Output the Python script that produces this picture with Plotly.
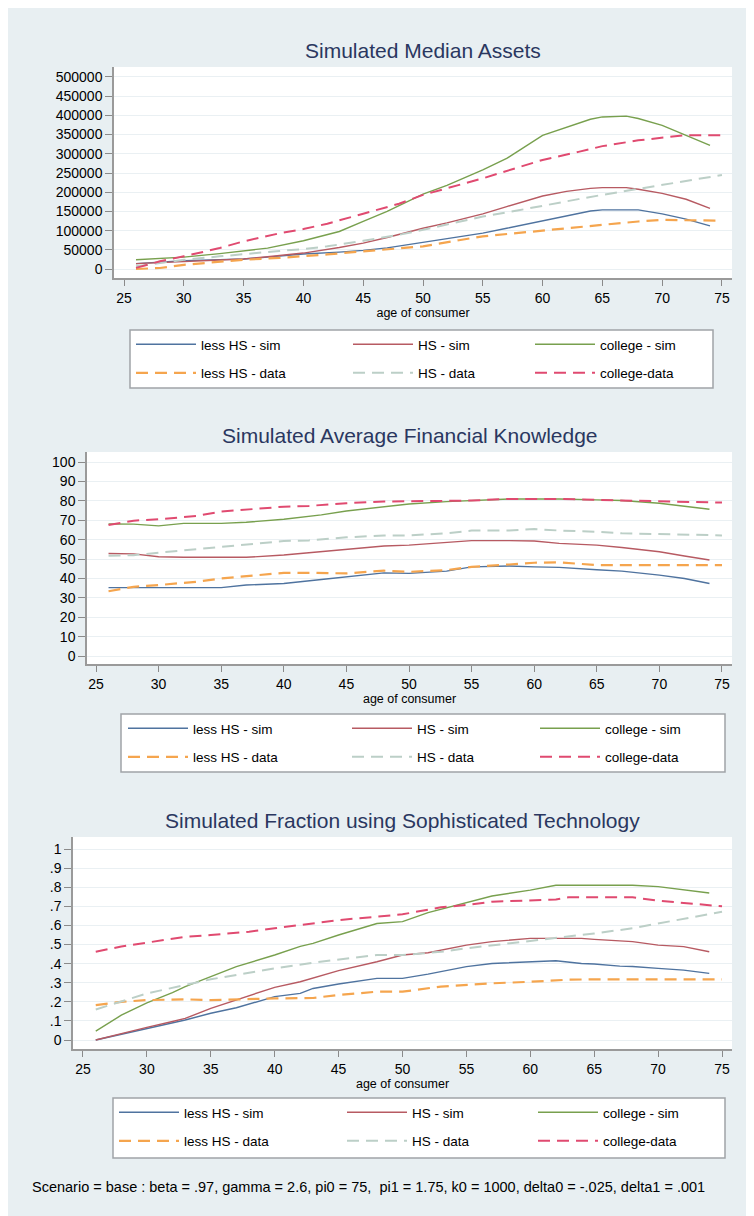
import plotly.graph_objects as go

# The page body has an 8px margin, so the figure starts at page (8, 8).
OFF = 8
W, H = 746, 1208

# ---------------- data ----------------
series_names = ["less HS - sim", "HS - sim", "college - sim",
                "less HS - data", "HS - data", "college-data"]

# Chart 1: Simulated Median Assets
assets_age_sim = [26, 28, 30, 33, 35, 37, 40, 43, 45, 47, 50, 52, 55, 57, 60, 62, 64, 65, 67, 68, 70, 72, 74]
assets_lesshs_sim = [14000, 18000, 21600, 24500, 26000, 31000, 39000, 44000, 48400, 55000, 69000, 78000, 93400,
                     106000, 125400, 137000, 151000, 154000, 154000, 154000, 143600, 130000, 112500]
assets_hs_sim = [14000, 17000, 20000, 24000, 26000, 32000, 41500, 56000, 67500, 82000, 106000, 120000, 143600,
                 162600, 190000, 202000, 210000, 212000, 212000, 207600, 197000, 181600, 158000]
assets_college_sim = [24000, 28000, 31000, 40000, 47600, 54500, 73500, 97700, 124000, 150000, 195000, 218000, 258000,
                      288000, 348000, 370000, 390000, 396000, 398000, 392000, 374000, 348000, 322000]
assets_age_data = [26, 28, 30, 33, 35, 38, 40, 42, 45, 48, 50, 53, 55, 58, 60, 63, 65, 68, 70, 72, 75]
assets_lesshs_data = [0, 2600, 11000, 19000, 24000, 29000, 33000, 38000, 46000, 54500, 59000, 75000, 85000, 94000,
                      99500, 109000, 115000, 123700, 128000, 127000, 126000]
assets_hs_data = [7000, 16000, 24000, 33000, 39000, 47000, 52000, 59000, 73500, 89000, 102000, 122000, 136700,
                  153000, 165000, 182000, 193000, 209000, 219000, 229000, 244800]
assets_college_data = [3000, 20000, 33000, 54500, 72000, 93000, 104000, 118000, 144000, 170000, 193000, 219000,
                       236000, 265000, 284000, 305000, 320000, 335000, 342500, 348600, 348600]
assets_yticks = [0, 50000, 100000, 150000, 200000, 250000, 300000, 350000, 400000, 450000, 500000]

# Chart 2: Simulated Average Financial Knowledge
know_age_sim = [26, 28, 30, 32, 35, 37, 40, 43, 45, 48, 50, 53, 55, 58, 60, 62, 65, 67, 70, 72, 74]
know_lesshs_sim = [35.3, 35.3, 35.2, 35.3, 35.3, 36.6, 37.4, 39.5, 40.9, 42.9, 42.6, 43.8, 46, 46.4, 46, 45.7,
                   44.5, 43.8, 41.7, 40, 37.4]
know_hs_sim = [52.9, 52.7, 51.2, 50.9, 50.9, 50.9, 52.1, 53.8, 54.7, 56.7, 57.2, 58.4, 59.5, 59.5, 59.3, 58.1,
               57.2, 56, 53.8, 51.6, 49.5]
know_college_sim = [68.1, 68, 67.1, 68.4, 68.4, 69, 70.5, 72.8, 74.8, 77, 78.4, 79.6, 80.2, 81, 81, 81, 80.5,
                    80.2, 78.8, 77.4, 75.7]
know_age_data = [26, 28, 30, 33, 35, 38, 40, 42, 45, 48, 50, 53, 55, 58, 60, 62, 65, 67, 70, 72, 75]
know_lesshs_data = [33.4, 35.7, 36.6, 38.3, 40, 41.7, 42.9, 42.9, 42.6, 44, 43.4, 44.3, 46, 47.2, 48.1, 48.3,
                    46.9, 46.9, 46.9, 46.9, 46.9]
know_hs_data = [51.7, 52, 53.3, 55.2, 56.4, 58.1, 59.3, 59.6, 61.2, 62.2, 62.2, 63.3, 64.7, 64.7, 65.5, 64.7,
                64.1, 63.3, 62.9, 62.6, 62.2]
know_college_data = [67.6, 69.8, 70.5, 72.2, 74.5, 75.8, 77, 77.4, 78.8, 79.7, 79.7, 80, 80.2, 81, 81, 81, 80.5,
                     80.2, 80, 79.6, 79.1]
know_yticks = [0, 10, 20, 30, 40, 50, 60, 70, 80, 90, 100]

# Chart 3: Simulated Fraction using Sophisticated Technology
tech_age_sim = [26, 28, 30, 32, 33, 35, 37, 40, 42, 43, 45, 48, 50, 52, 55, 57, 60, 62, 64, 65, 67, 68, 70, 72, 74]
tech_lesshs_sim = [0, .031, .061, .09, .105, .14, .169, .227, .244, .27, .293, .323, .323, .345, .384, .401, .41,
                   .415, .401, .398, .387, .385, .375, .366, .349]
tech_hs_sim = [0, .035, .066, .097, .113, .166, .21, .276, .305, .323, .363, .41, .445, .457, .497, .515, .532,
               .532, .532, .527, .52, .515, .497, .489, .462]
tech_college_sim = [.047, .13, .195, .248, .28, .33, .384, .445, .49, .506, .55, .61, .62, .667, .72, .754, .785,
                    .81, .81, .81, .81, .81, .803, .785, .77]
tech_age_data = [26, 28, 30, 33, 35, 38, 40, 43, 45, 48, 50, 53, 55, 57, 60, 62, 63, 65, 68, 70, 73, 75]
tech_lesshs_data = [.183, .20, .209, .213, .209, .215, .218, .22, .236, .253, .253, .28, .288, .297, .305, .314,
                    .316, .318, .318, .318, .318, .318]
tech_hs_data = [.16, .204, .244, .288, .318, .352, .375, .405, .422, .445, .445, .462, .48, .495, .52, .532, .54,
                .558, .585, .61, .646, .672]
tech_college_data = [.462, .49, .51, .54, .55, .567, .585, .61, .628, .646, .658, .695, .707, .724, .733, .736,
                     .747, .747, .747, .73, .712, .70]
tech_yticks = [0, .1, .2, .3, .4, .5, .6, .7, .8, .9, 1]
tech_yticklabels = ["0", ".1", ".2", ".3", ".4", ".5", ".6", ".7", ".8", ".9", "1"]

xticks = [25, 30, 35, 40, 45, 50, 55, 60, 65, 70, 75]

titles = ["Simulated Median Assets",
          "Simulated Average Financial Knowledge",
          "Simulated Fraction using Sophisticated Technology"]
xtitle = "age of consumer"
note = ("Scenario = base : beta = .97, gamma = 2.6, pi0 = 75,  pi1 = 1.75, k0 = 1000, "
        "delta0 = -.025, delta1 = .001")

# ---------------- style ----------------
FONT = "Liberation Sans, Arial, sans-serif"
BG = "#e8eff2"
colors = ["#4f739f", "#b75a62", "#78a04e", "#f5a54e", "#bccfc7", "#e04a70"]
widths = [1.4, 1.4, 1.4, 2.2, 2.0, 2.0]
dashes = [None, None, None, "12px,7px", "12px,7px", "12px,7px"]


def fx(p):  # page pixel -> paper x
    return (p - OFF) / W


def fy(p):  # page pixel -> paper y
    return 1 - (p - OFF) / H


# page-pixel layout of each panel: (left, right, top, bottom)
panels = [(114, 732, 67, 278), (87, 732, 452, 664), (73, 732, 837, 1049)]
xranges = [[24.16, 75.84], [24.28, 75.8], [24.22, 75.78]]
yranges = [[-23400, 526000], [-4.1, 105.2], [-0.047, 1.063]]
title_y = [50, 436, 820]
# legend boxes (page px): left, right, top, bottom
legend_box = [(130, 713, 330, 388), (121, 725, 714, 772), (113, 725, 1098, 1158)]
# x page position where each legend column's sample line starts
legend_cols = [(137, 354, 536), (129, 353, 541), (120, 348, 539)]

charts = [
    (assets_age_sim, [assets_lesshs_sim, assets_hs_sim, assets_college_sim],
     assets_age_data, [assets_lesshs_data, assets_hs_data, assets_college_data]),
    (know_age_sim, [know_lesshs_sim, know_hs_sim, know_college_sim],
     know_age_data, [know_lesshs_data, know_hs_data, know_college_data]),
    (tech_age_sim, [tech_lesshs_sim, tech_hs_sim, tech_college_sim],
     tech_age_data, [tech_lesshs_data, tech_hs_data, tech_college_data]),
]


def legend_id(i, c):
    k = 3 * i + c + 1
    return "legend" if k == 1 else f"legend{k}"


fig = go.Figure()
for i, (age_s, sims, age_d, datas) in enumerate(charts):
    xa = "x" if i == 0 else f"x{i+1}"
    ya = "y" if i == 0 else f"y{i+1}"
    all_series = [(age_s, s) for s in sims] + [(age_d, d) for d in datas]
    for j, (ages, vals) in enumerate(all_series):
        fig.add_trace(go.Scatter(
            x=ages, y=vals, mode="lines", name=series_names[j],
            line=dict(color=colors[j], width=widths[j], dash=dashes[j]),
            xaxis=xa, yaxis=ya, legend=legend_id(i, j % 3),
            legendgroup=f"c{i}s{j}", showlegend=True, hoverinfo="skip"))

layout = dict(
    width=W, height=H, margin=dict(l=0, r=0, t=0, b=0),
    paper_bgcolor=BG, plot_bgcolor="white",
    font=dict(family=FONT, color="black", size=12),
    showlegend=True,
)

ytickcfg = [
    dict(tickvals=assets_yticks, ticktext=[str(v) for v in assets_yticks]),
    dict(tickvals=know_yticks, ticktext=[str(v) for v in know_yticks]),
    dict(tickvals=tech_yticks, ticktext=tech_yticklabels),
]

annotations = []
shapes = []
for i, (l, r, t, b) in enumerate(panels):
    sfx = "" if i == 0 else str(i + 1)
    layout["xaxis" + sfx] = dict(
        domain=[fx(l), fx(r)], range=xranges[i], anchor="y" + sfx,
        tickmode="array", tickvals=xticks, ticks="outside", ticklen=6, tickwidth=1,
        tickcolor="#8a8a8a", showline=True, linecolor="#9a9a9a", linewidth=1.5,
        showgrid=False, zeroline=False,
        tickfont=dict(size=14, color="black", family=FONT),
        title=dict(text=xtitle, font=dict(size=12.5, color="black", family=FONT), standoff=4),
    )
    layout["yaxis" + sfx] = dict(
        domain=[fy(b), fy(t)], range=yranges[i], anchor="x" + sfx,
        tickmode="array", **ytickcfg[i], ticks="outside", ticklen=7, tickwidth=1,
        tickcolor="#8a8a8a", showline=True, linecolor="#9a9a9a", linewidth=1.5,
        showgrid=True, gridcolor="#eaf0f3", gridwidth=1, zeroline=False,
        tickfont=dict(size=14, color="black", family=FONT),
    )
    annotations.append(dict(
        text=titles[i], xref="paper", yref="paper",
        x=fx((l + r) / 2), y=fy(title_y[i]), xanchor="center", yanchor="middle",
        showarrow=False, font=dict(size=21, color="#2a3760", family=FONT)))
    bl, br, bt, bb = legend_box[i]
    shapes.append(dict(type="rect", xref="paper", yref="paper",
                       x0=fx(bl), x1=fx(br), y0=fy(bb), y1=fy(bt),
                       fillcolor="white", line=dict(color="#a0a4a8", width=1.5), layer="below"))
    for c in range(3):
        layout[legend_id(i, c)] = dict(
            orientation="v", xref="paper", yref="paper",
            x=fx(legend_cols[i][c] - 6), xanchor="left", y=fy(bt - 1), yanchor="top",
            bgcolor="rgba(0,0,0,0)", borderwidth=0,
            font=dict(size=13.5, color="black", family=FONT),
            itemwidth=60, tracegroupgap=8, traceorder="grouped",
        )

annotations.append(dict(
    text=note, xref="paper", yref="paper", x=fx(30), y=fy(1187),
    xanchor="left", yanchor="middle", showarrow=False,
    font=dict(size=14.5, color="black", family=FONT)))

layout["annotations"] = annotations
layout["shapes"] = shapes

fig.update_layout(**layout)
fig.write_html("out.html")
